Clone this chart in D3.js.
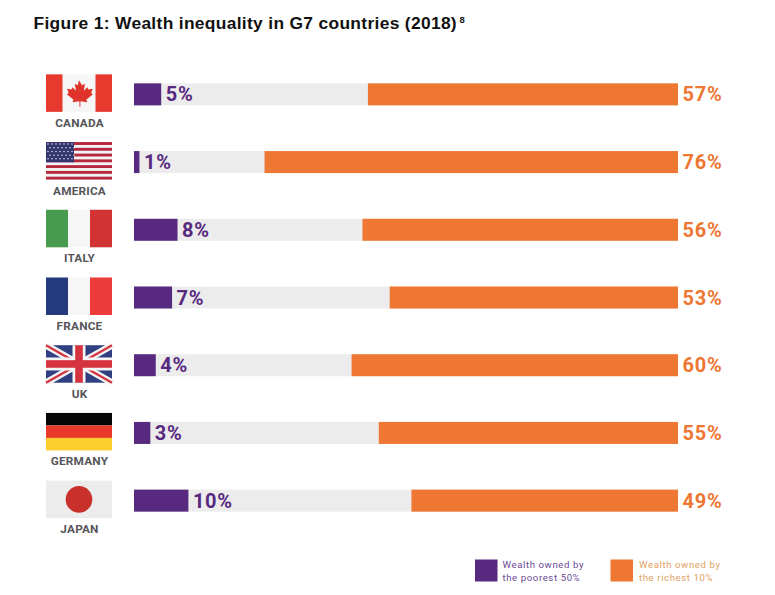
<!DOCTYPE html>
<html><head><meta charset="utf-8">
<script src="https://cdn.jsdelivr.net/npm/d3@7/dist/d3.min.js"></script>
<style>html,body{margin:0;padding:0;background:#fff}svg{display:block}</style></head>
<body><svg id="c" width="775" height="595"></svg>
<script>
const countries = ["CANADA","AMERICA","ITALY","FRANCE","UK","GERMANY","JAPAN"];
const poorest = [5,1,8,7,4,3,10];
const richest = [57,76,58,53,60,55,49];
const richestLabels = ["57%","76%","56%","53%","60%","55%","49%"];
const PURPLE="#57297f", ORANGE="#ee7733", TRACK="#ececec", GREY="#55555a";

const svg=d3.select("#c");
const sans="'Liberation Sans',Arial,sans-serif";
const din="Roboto,'Liberation Sans',sans-serif";
const x=d3.scaleLinear().domain([0,100]).range([134,678]);
const y=d3.scaleBand().domain(countries).range([72.5,546.5]).paddingInner(0).paddingOuter(0);
const barH=22;
const barY=c=>y(c)+y.bandwidth()/2-23;

svg.append("text").attr("x",33.5).attr("y",29).attr("font-family",sans).attr("font-weight",700)
 .attr("font-size",17.4).attr("letter-spacing",0.32).attr("fill","#111").text("Figure 1: Wealth inequality in G7 countries (2018)");
svg.append("text").attr("x",459.5).attr("y",23).attr("font-family",sans).attr("font-weight",700)
 .attr("font-size",9.5).attr("fill","#111").text("8");

const rows=svg.selectAll("g.row").data(countries).join("g").attr("class","row");
rows.append("rect").attr("x",x(0)).attr("width",x(100)-x(0)).attr("y",barY).attr("height",barH).attr("fill",TRACK);
rows.append("rect").attr("class","poor").attr("x",x(0)).attr("y",barY).attr("height",barH).attr("fill",PURPLE)
 .attr("width",(c,i)=>x(poorest[i])-x(0));
rows.append("rect").attr("class","rich").attr("x",(c,i)=>x(100-richest[i])).attr("y",barY).attr("height",barH).attr("fill",ORANGE)
 .attr("width",(c,i)=>x(100)-x(100-richest[i]));
rows.append("text").attr("x",(c,i)=>x(poorest[i])+4.5).attr("y",c=>barY(c)+18)
 .attr("font-family",din).attr("font-weight",700).attr("font-size",20).attr("letter-spacing",.75).attr("fill",PURPLE).text((c,i)=>poorest[i]+"%");
rows.append("text").attr("x",x(100)+4.5).attr("y",c=>barY(c)+18)
 .attr("font-family",din).attr("font-weight",700).attr("font-size",20).attr("letter-spacing",.75).attr("fill",ORANGE).text((c,i)=>richestLabels[i]);
rows.append("text").attr("x",79.5).attr("y",c=>barY(c)+43.5).attr("text-anchor","middle")
 .attr("font-family",din).attr("font-weight",700).attr("font-size",11.8).attr("letter-spacing",.2).attr("fill",GREY).text(c=>c);

// flags
const FW=66,FH=37.5,FX=46;
const flagG=rows.append("g").attr("transform",c=>`translate(${FX},${barY(c)-9})`);
function r(g,a,b,w,h,f){g.append("rect").attr("x",a).attr("y",b).attr("width",w).attr("height",h).attr("fill",f);}
const drawers={
 CANADA(g){r(g,0,0,FW,FH,"#f6f6f6");r(g,0,0,16.5,FH,"#e8392f");r(g,49.5,0,16.5,FH,"#e8392f");
  g.append("path").attr("fill","#e0332b").attr("d","M33 6 l3 5 3-1.5 -1.2 7 3.6-3.6 1 2.3 4.2-.8 -1.4 4.4 1.8 1 -6.6 5.4 .8 2.6 -6.8-.9 0 5.5 -1 0 0-5.5 -6.8.9 .8-2.6 -6.6-5.4 1.8-1 -1.4-4.4 4.2.8 1-2.3 3.6 3.6 -1.2-7 3 1.5z");},
 AMERICA(g){r(g,0,0,FW,FH,"#f4f4f4");d3.range(7).forEach(i=>r(g,0,i*FH/6.5,FW,FH/13,"#b5283d"));
  r(g,0,0,28,FH*7/13,"#33356e");
  d3.range(5).forEach(j=>d3.range(7).forEach(i=>g.append("circle").attr("cx",2+i*4+(j%2)*2).attr("cy",2+j*3.7).attr("r",.75).attr("fill","#e8e8ef")));},
 ITALY(g){r(g,0,0,FW,FH,"#f6f6f6");r(g,0,0,22,FH,"#469b4f");r(g,44,0,22,FH,"#d23434");},
 FRANCE(g){r(g,0,0,FW,FH,"#f6f6f6");r(g,0,0,22,FH,"#253a7d");r(g,44,0,22,FH,"#ee3b3b");},
 UK(g){r(g,0,0,FW,FH,"#2f3f7f");
  g.append("path").attr("d",`M0 0L${FW} ${FH}M${FW} 0L0 ${FH}`).attr("stroke","#f4f4f4").attr("stroke-width",7);
  g.append("path").attr("d",`M0 0L${FW} ${FH}M${FW} 0L0 ${FH}`).attr("stroke","#d5343f").attr("stroke-width",2.2);
  r(g,FW/2-6.5,0,13,FH,"#f4f4f4");r(g,0,FH/2-6.5,FW,13,"#f4f4f4");
  r(g,FW/2-3.8,0,7.6,FH,"#d5343f");r(g,0,FH/2-3.8,FW,7.6,"#d5343f");},
 GERMANY(g){r(g,0,0,FW,12.5,"#050505");r(g,0,12.5,FW,12.5,"#e8392a");r(g,0,25,FW,12.5,"#fbd02e");},
 JAPAN(g){r(g,0,0,FW,FH,"#ececec");g.append("circle").attr("cx",FW/2).attr("cy",FH/2).attr("r",13.3).attr("fill","#c9302c");}
};
flagG.each(function(c){drawers[c](d3.select(this));});

// legend
const legendItems=[{c:PURPLE,t:"#6b4a94",lx:475,tx:502.5,l:["Wealth owned by","the poorest 50%"]},{c:ORANGE,t:"#e0a163",lx:610.5,tx:639,l:["Wealth owned by","the richest 10%"]}];
legendItems.forEach(d=>{
 svg.append("rect").attr("x",d.lx).attr("y",559.5).attr("width",22.5).attr("height",22).attr("fill",d.c);
 d.l.forEach((s,i)=>svg.append("text").attr("x",d.tx).attr("y",568+i*12.6).attr("font-family",din).attr("font-size",9.6).attr("letter-spacing",.6).attr("fill",d.t).text(s));
});
</script></body></html>
